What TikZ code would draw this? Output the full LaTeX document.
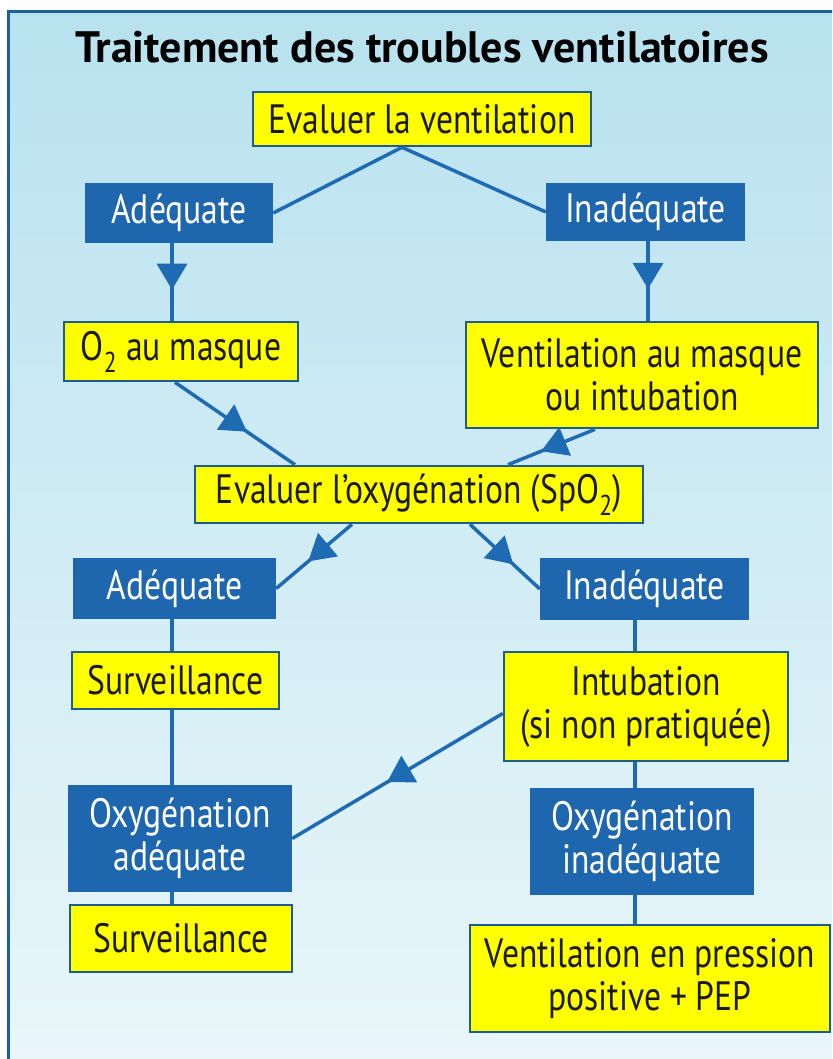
\documentclass[tikz,border=0pt]{standalone}
\usepackage{fontspec}
\setmainfont{PT Sans}[FakeStretch=0.82]
\newfontfamily\titlefont{PT Sans}
\usetikzlibrary{arrows.meta,decorations.markings,calc}
\definecolor{bgtop}{HTML}{B8E2EF}
\definecolor{bgbot}{HTML}{EAF6FA}
\definecolor{frameblue}{HTML}{1E5FA0}
\definecolor{boxblue}{HTML}{1E67AF}
\definecolor{lineblue}{HTML}{1E6AB3}
\definecolor{yborder}{HTML}{1D5C8E}
\definecolor{yfill}{HTML}{FFFF00}
\definecolor{ytext}{HTML}{1A1A05}
\tikzset{
  ybox/.style={fill=yfill, draw=yborder, line width=2.6pt, text=ytext, inner sep=0pt, align=center,
    font=\fontsize{41}{43}\selectfont},
  bbox/.style={fill=boxblue, draw=none, text=white, inner sep=0pt, align=center,
    font=\fontsize{41}{43}\selectfont},
  conn/.style={draw=lineblue, line width=3.5pt},
  midarrow/.style={postaction={decorate}, decoration={markings,
    mark=at position #1 with {\arrow{Triangle[length=26pt 0 0,width=30pt 0 0]}}}}
}
\begin{document}
\begin{tikzpicture}[x=1pt,y=-1pt]
\useasboundingbox (0,0) rectangle (832,1059);
\begin{scope}
\clip (0,0) rectangle (832,1059);
\fill[white] (0,0) rectangle (832,1059);
\shade[top color=bgtop, bottom color=bgbot] (8,12) rectangle (850,1080);
\draw[frameblue, line width=3pt] (8,12) rectangle (850,1080);
\end{scope}

\node[anchor=base, font=\titlefont\bfseries\fontsize{44}{50}\selectfont, text=black] (title) at (422,63) {Traitement des troubles ventilatoires};

\node[ybox, minimum width=338pt, minimum height=54pt] (vent) at (422,119) {Evaluer la ventilation};
\node[bbox, minimum width=188pt, minimum height=60pt] (ad1) at (179,213) {Adéquate};
\node[bbox, minimum width=199pt, minimum height=58pt] (in1) at (645.5,212) {Inadéquate};
\node[ybox, minimum width=234pt, minimum height=59pt] (o2) at (181,351.5) {O\textsubscript{2} au masque};
\node[ybox, minimum width=352pt, minimum height=106pt] (vm) at (642,375) {Ventilation au masque\\ou intubation};
\node[ybox, minimum width=448pt, minimum height=57pt] (oxy) at (419,494.5) {Evaluer l’oxygénation (SpO\textsubscript{2})};
\node[bbox, minimum width=203pt, minimum height=61pt] (ad2) at (174.5,588.5) {Adéquate};
\node[bbox, minimum width=209pt, minimum height=62pt] (in2) at (644.5,589) {Inadéquate};
\node[ybox, minimum width=207pt, minimum height=57pt] (surv1) at (175.5,680.5) {Surveillance};
\node[ybox, minimum width=284pt, minimum height=109pt] (intu) at (646,706.5) {Intubation\\(si non pratiquée)};
\node[bbox, minimum width=224pt, minimum height=107pt] (oxa) at (180,838.5) {Oxygénation\\adéquate};
\node[bbox, minimum width=224pt, minimum height=107pt] (oxi) at (642,841.5) {Oxygénation\\inadéquate};
\node[ybox, minimum width=222pt, minimum height=67pt] (surv2) at (181,938.5) {Surveillance};
\node[ybox, minimum width=360pt, minimum height=107pt] (vpp) at (650,978.5) {Ventilation en pression\\positive + PEP};

% top split
\draw[conn] ([xshift=-20pt]vent.south) -- (ad1.east);
\draw[conn] ([xshift=-20pt]vent.south) -- (in1.west);
% down arrows
\draw[conn, midarrow=0.6] ([xshift=-7pt]ad1.south) -- ([xshift=-7pt]ad1.south |- o2.north);
\draw[conn, midarrow=0.6] ([xshift=2.5pt]in1.south) -- ([xshift=2.5pt]in1.south |- vm.north);
% to oxygenation
\draw[conn, midarrow=0.6] ([xshift=-6pt]o2.south) -- ([xshift=-124pt]oxy.north);
\draw[conn, midarrow=0.62] ([xshift=-47pt]vm.south) -- ([xshift=89pt]oxy.north);
% from oxygenation
\draw[conn, midarrow=0.58] ([xshift=-67pt]oxy.south) -- (ad2.east);
\draw[conn, midarrow=0.62] ([xshift=51pt]oxy.south) -- (in2.west);
% left spine
\draw[conn] ([xshift=-2.5pt]ad2.south) -- ([xshift=-2.5pt]ad2.south |- surv1.north);
\draw[conn] ([xshift=-3.5pt]surv1.south) -- ([xshift=-3.5pt]surv1.south |- oxa.north);
\draw[conn] ([xshift=-8pt]oxa.south) -- ([xshift=-8pt]oxa.south |- surv2.north);
% right spine
\draw[conn] ([xshift=-9.5pt]in2.south) -- ([xshift=-9.5pt]in2.south |- intu.north);
\draw[conn] ([xshift=-11pt]intu.south) -- ([xshift=-11pt]intu.south |- oxi.north);
\draw[conn] ([xshift=-7pt]oxi.south) -- ([xshift=-7pt]oxi.south |- vpp.north);
% diagonal
\draw[conn, midarrow=0.55] ([yshift=-7pt]intu.west) -- (oxa.east);
\end{tikzpicture}
\end{document}
